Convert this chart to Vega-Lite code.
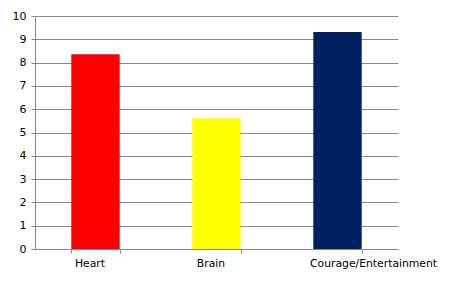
{
  "$schema": "https://vega.github.io/schema/vega-lite/v6.json",
  "autosize": "none",
  "width": 363,
  "height": 233,
  "padding": {"left": 35, "top": 16, "right": 66, "bottom": 42},
  "background": "white",
  "data": {"values": [
    {"category": "Heart", "value": 8.36, "color": "#FF0000"},
    {"category": "Brain", "value": 5.61, "color": "#FFFF00"},
    {"category": "Courage/Entertainment", "value": 9.31, "color": "#002060"}
  ]},
  "mark": {"type": "bar"},
  "encoding": {
    "x": {
      "field": "category", "type": "nominal", "sort": null,
      "scale": {"paddingInner": 0.6, "paddingOuter": 0.3},
      "axis": {
        "title": null, "labelAngle": 0, "tickBand": "extent", "tickSize": 4, "tickColor": "#868686", "domainColor": "#868686",
        "labelFont": "DejaVu Sans", "labelFontSize": 10.8, "labelColor": "#000000", "labelPadding": 4, "grid": false,
        "labelAlign": {"condition": {"test": "datum.value === 'Courage/Entertainment'", "value": "left"}, "value": "center"},
        "labelOffset": {"condition": {"test": "datum.value === 'Courage/Entertainment'", "value": -28}, "value": -6}
      }
    },
    "y": {
      "field": "value", "type": "quantitative",
      "scale": {"domain": [0, 10], "nice": false},
      "axis": {"title": null, "values": [0,1,2,3,4,5,6,7,8,9,10], "tickSize": 4, "tickColor": "#868686", "domainColor": "#868686", "gridColor": "#868686", "gridOpacity": 1, "labelFont": "DejaVu Sans", "labelFontSize": 11, "labelColor": "#000000", "labelPadding": 5}
    },
    "color": {"field": "color", "type": "nominal", "scale": null, "legend": null}
  },
  "config": {"view": {"stroke": null}}
}
